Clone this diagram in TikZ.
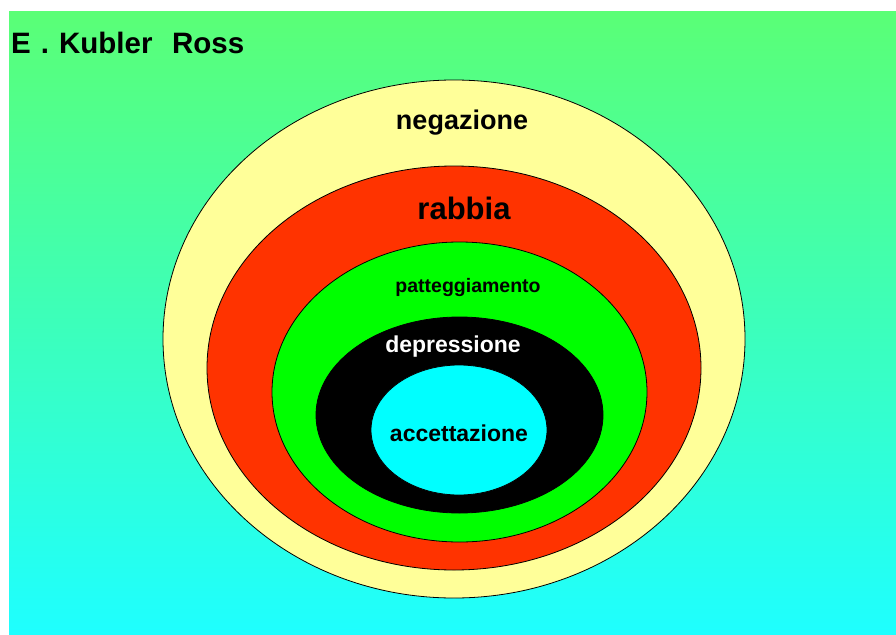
\documentclass[tikz,border=0pt]{standalone}
\usepackage{fontspec}
\setmainfont{Liberation Sans}
\definecolor{bgtop}{RGB}{90,255,118}
\definecolor{bgbot}{RGB}{30,255,255}
\definecolor{ringyellow}{RGB}{255,255,153}
\definecolor{ringred}{RGB}{255,51,0}
\definecolor{ringgreen}{RGB}{0,255,0}
\definecolor{ringcyan}{RGB}{0,255,255}
\tikzset{
  ring/.style={line width=0.8pt, draw=black},
  lbl/.style={inner sep=0pt, anchor=center, font=\bfseries},
}
\begin{document}
\begin{tikzpicture}[x=1pt,y=-1pt]
\useasboundingbox (0,0) rectangle (896,634);
\fill[white] (0,0) rectangle (896,634);
\shade[top color=bgtop, bottom color=bgbot] (9,12) rectangle (896,634);
\node[lbl, anchor=base west, font=\bfseries\fontsize{29.5}{34}\selectfont] (title) at (11,53) {E\hspace{10pt}.\hspace{10pt}Kubler\hspace{19.6pt}Ross};
\draw[ring, fill=ringyellow] (454,339) ellipse [x radius=291, y radius=259];
\draw[ring, fill=ringred] (454,368) ellipse [x radius=247, y radius=202];
\draw[ring, fill=ringgreen] (459.5,392) ellipse [x radius=187.5, y radius=150];
\draw[ring, fill=black] (459.5,415) ellipse [x radius=143.5, y radius=98];
\draw[ring, fill=ringcyan] (459,430) ellipse [x radius=88, y radius=65];
\node[lbl, font=\bfseries\fontsize{27}{32}\selectfont] (neg) at (462,123) {negazione};
\node[lbl, font=\bfseries\fontsize{31}{36}\selectfont] (rab) at (464,208) {rabbia};
\node[lbl, font=\bfseries\fontsize{19.5}{23}\selectfont] (pat) at (468,287) {patteggiamento};
\node[lbl, text=white, font=\bfseries\fontsize{23}{27}\selectfont] (dep) at (453,347) {depressione};
\node[lbl, font=\bfseries\fontsize{23}{27}\selectfont] (acc) at (459,433) {accettazione};
\end{tikzpicture}
\end{document}
